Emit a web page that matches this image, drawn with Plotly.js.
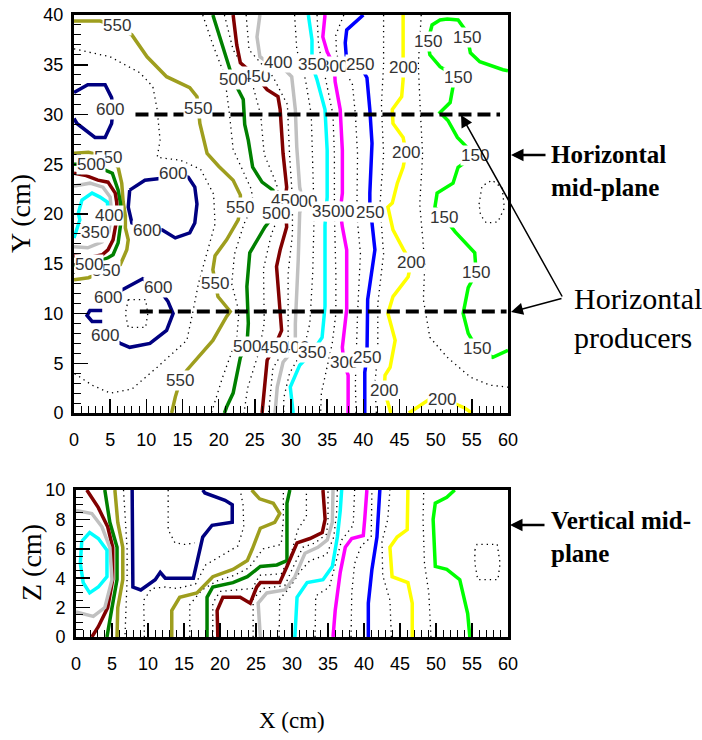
<!DOCTYPE html>
<html><head><meta charset="utf-8">
<script src="https://cdn.plot.ly/plotly-3.0.1.min.js"></script>
<style>html,body{margin:0;padding:0;background:#fff}#chart{width:702px;height:740px}</style>
</head><body><div id="chart"></div>
<script>
// ---------- DATA : top panel (X-Y horizontal mid-plane), contour polylines [x,y] ----------
const T600 = [
  [[0,32.2],[1.9,33.0],[4.3,33.0],[5.2,31.7],[5.4,30.5],[5.2,29.1],[4.3,27.7],[2.9,27.7],[0.4,29.1],[0,29.6]],
  [[7.7,22.4],[9.8,23.4],[12.2,23.6],[13.7,24.1],[15.8,23.7],[16.7,22.7],[17.0,21.0],[16.7,19.1],[16.0,18.1],[14.0,17.6],[12.2,18.4],[10.1,18.6],[8.0,19.1],[7.5,20.7],[7.7,22.4]],
  [[4.7,11.6],[6.8,12.4],[9.5,13.5],[11.6,12.6],[13.0,11.2],[13.7,10.0],[12.8,8.3],[10.5,7.0],[7.7,6.6],[6.4,7.0],[4.3,7.8]],
  [[3.9,10.3],[2.2,10.3],[1.8,9.8],[2.5,9.2],[3.9,9.2]]
];
const T550 = [
  [[0,39.4],[3.6,39.4],[5.9,38.9],[8.0,38.0],[10.1,35.8],[12.8,33.8],[16.0,32.7],[17.0,31.8],[17.2,30.6],[17.4,29.1],[18.4,26.1],[20.0,24.8],[22.0,23.4],[23.0,21.9],[23.0,20.7],[22.7,19.4],[21.1,17.4],[19.5,15.8],[19.2,14.4],[19.5,13.0],[19.9,11.7],[21.6,10.2],[21.1,9.7],[19.2,7.3],[15.6,4.3],[14.7,3.3],[14.0,1.6],[13.5,0]],
  [[0,26.1],[2.0,26.2],[4.7,25.7],[6.1,24.7],[6.6,23.1],[6.8,21.2],[7.1,19.8],[7.1,18.6],[7.5,17.4],[7.3,16.4],[6.4,14.9],[4.4,14.3],[2.0,13.6],[0,13.4]]
];
const T500 = [
  [[19.2,40],[20.5,37],[21.6,34.3],[22.0,33.5],[23.4,31.5],[23.6,29],[24.1,27.4],[24.7,24.7],[26.0,23.2],[27.5,22.4],[27.9,20.1],[26.4,18.7],[24.3,16.1],[23.9,12.7],[24.1,9.0],[23.9,6.7],[23.0,5.6],[22.0,2.0],[21.1,0.6],[20.8,0]],
  [[0,25.0],[2.3,25.0],[4.3,24.4],[5.3,24.1],[6.1,22.4],[6.4,21.2],[6.6,19.8],[6.4,18.4],[6.1,17.1],[5.4,15.9],[4.7,15.6],[2.1,14.9],[0,14.9]]
];
const T450 = [
  [[22.0,40],[22.5,37],[23.0,35.2],[25.2,33.8],[26.7,32.5],[28.2,31.8],[28.5,30.5],[28.9,26.1],[29.4,22.7],[29.2,21.4],[29.4,18.7],[28.5,16.4],[28.0,14.7],[28.5,10.7],[28.7,8.3],[27.7,6.6],[26.7,5.3],[26.0,0]],
  [[0,24.1],[1.5,23.9],[3.3,23.4],[4.7,23.2],[5.7,22.1],[5.9,21.2],[6.0,19.8],[5.7,18.4],[5.4,17.4],[4.7,16.4],[3.9,15.9],[2.0,15.6],[0,15.8]]
];
const T400 = [
  [[25.7,40],[25.3,37.8],[25.7,35.8],[26.7,35.3],[28.2,35.2],[30.1,33.8],[30.6,30.5],[30.8,26.7],[31.2,22.7],[31.6,21.3],[31.2,20.1],[31.0,15.4],[30.6,9.0],[30.6,6.6],[28.9,5.1],[28.1,2.6],[27.8,0]],
  [[0,22.8],[2.2,23.1],[4.0,22.7],[5.0,21.7],[5.2,20.0],[4.8,18.2],[3.9,17.2],[1.9,16.6],[0,16.7]]
];
const T350 = [
  [[32.4,40],[32.9,37.5],[32.9,35.0],[33.6,33.5],[34.7,30.5],[35.0,26.4],[35.0,21.7],[34.9,20.3],[34.7,18.9],[34.7,10.7],[34.3,7.6],[32.9,6.1],[31.2,4.8],[29.9,2.6],[30.3,0]],
  [[0,17.6],[0.5,18.6],[0.8,19.4],[0.6,20.1],[1.1,21.4],[2.5,22.1],[3.6,21.7],[4.6,21.2],[4.8,20.0],[4.2,18.6],[2.9,18.1]]
];
const T300 = [
  [[34.7,40],[34.4,37.8],[35.0,36.3],[36.0,34.8],[36.1,33.3],[36.8,30.5],[37.1,26.4],[37.1,22.1],[36.8,20.3],[37.1,18.7],[37.7,16.4],[37.7,10.4],[37.1,6.6],[37.3,5.1],[37.9,3.8],[37.9,0]]
];
const T250 = [
  [[40.0,40],[37.7,38.5],[37.5,37.2],[37.7,35.3],[39.5,35.0],[40.5,33.7],[40.9,30.5],[41.2,27.1],[40.9,22.1],[40.9,20.2],[41.2,19.1],[41.6,16.4],[40.6,11.4],[40.6,8.0],[40.5,5.6],[40.2,4.1],[40.2,0]]
];
const T200 = [
  [[45.5,40],[45.5,35.8],[45.5,34.7],[45.5,33.5],[45.3,31.8],[44.0,30.5],[44.1,29.1],[45.5,27.7],[45.9,26.2],[45.5,24.7],[44.7,23.1],[44.0,21.1],[43.4,20.7],[44.1,18.4],[45.5,16.5],[46.6,15.1],[46.2,13.7],[44.1,11.7],[43.4,10.0],[44.4,7.3],[43.7,4.6],[43.0,3.8],[42.9,2.3],[43.3,1.3],[43.8,0]],
  [[46.3,0],[47.5,0.6],[49.2,1.4],[50.9,1.4],[52.5,1.0],[54.0,0.5],[55.0,0]]
];
const T150 = [
  [[60,34.4],[59.3,34.5],[56.1,35.3],[54.8,36.2],[54.4,37.7],[54.3,38.3],[53.1,39.5],[51.6,39.6],[50.6,39.5],[49.5,39.0],[48.9,37.3],[49.2,36.0],[50.6,34.8],[53.1,33.7],[52.4,32.8],[52.0,31.2],[50.6,30.2],[51.7,29.4],[53.0,27.7],[55.4,25.9],[53.1,24.7],[52.4,23.1],[50.2,22.1],[49.9,20.7],[51.2,19.6],[52.7,18.2],[55.4,16.1],[55.6,14.1],[54.5,12.6],[53.8,10.0],[54.5,8.0],[55.7,6.5],[57.9,5.6],[59.6,6.1],[60,6.3]]
];
// intermediate (dotted) isotherms, top panel
const Tdots = [
  [[0,36.6],[1.9,36.3],[5.0,35.8],[9.1,34.2],[10.9,32.8],[11.5,30.5],[11.9,27.4],[11.5,25.7],[14.7,25.4],[17.5,24.5],[19.3,22.0],[19.5,19.0],[18.5,16.5],[17.2,13.0],[16.5,10.4],[15.6,7.3],[11.5,4.6],[8.0,2.4],[5.0,2.0],[2.5,2.8],[0,4.0]],
  [[7.5,11.4],[9.9,11.4],[10.2,10.0],[9.9,8.6],[7.5,8.6],[7.1,10.0],[7.5,11.4]],
  [[17.8,40],[19.2,37],[20.8,34],[21.5,30],[22.0,26.5],[24.5,22.5],[24.8,21.0],[23.5,19.0],[22.2,16.0],[21.8,13.0],[22.8,10.2],[22.5,7.5],[20.5,3.5],[19.0,0]],
  [[20.8,40],[22.0,36.5],[24.5,33.5],[25.8,30],[26.3,26],[28.0,23],[28.7,20.5],[27.3,18],[26.2,14.5],[26.3,9],[25.5,6],[24.0,2.5],[23.5,0]],
  [[23.8,40],[24.2,36.5],[27.5,33.8],[29.5,31],[29.8,26],[30.2,21.5],[30.2,18],[29.6,14],[29.6,9],[29.6,7],[27.5,4.5],[26.9,0]],
  [[30.5,40],[30.8,36.5],[32.0,33.5],[32.8,30],[33.0,25],[33.2,20],[33.0,14],[32.6,9],[31.8,6.5],[29.8,4],[29.0,1.5],[29.0,0]],
  [[33.6,40],[33.8,37],[34.8,33.5],[35.8,30],[36.0,26],[36.0,20],[36.2,14],[36.2,10],[35.7,7],[35.0,4.5],[34.2,2],[34.1,0]],
  [[37.3,40],[36.2,38],[36.3,36],[38.5,33],[38.9,30],[39.2,26],[39.1,20],[39.6,16],[39.2,10],[39.0,6],[38.9,3],[39.0,0]],
  [[42.8,40],[42.8,35],[42.5,31],[42.8,26],[42.3,21],[42.8,16],[42.0,11],[42.0,6],[41.6,3],[41.8,0]],
  [[48.0,40],[47.6,35],[47.9,30],[48.2,26],[47.8,21],[48.5,15],[48.3,11.4],[49.2,7.6],[51.6,5.6],[54.8,3.6],[57.5,2.8],[60,2.6]],
  [[56.0,21],[56.4,22.8],[57.8,23.4],[59.2,22.6],[59.5,20.6],[58.6,19.2],[57.0,19.1],[56.2,19.9],[56.0,21]]
];
// contour labels, top panel (drawn in order; later ones sit on top)
const topLabT = ["550","450","500","600","550","400","300","350","250","200","150","150","150","200","150","600","550","500","550","400","450","500","300","350","250","150","200","150","400","450","500","350","300","250","200","200","150","600","600","600","550","550","600","400","350","550","500"];
const topLabX = [5.9,25.2,22.0,5.0,17.2,28.2,36.0,32.9,39.5,45.5,48.9,54.4,53.1,45.9,55.4,13.7,4.7,2.3,23.0,31.6,29.2,27.9,36.8,34.9,40.9,51.2,46.6,55.6,30.6,27.7,23.9,32.9,37.3,40.5,42.9,50.9,55.7,11.6,4.7,4.3,14.7,19.5,10.1,4.9,2.9,4.4,2.1];
const topLabY = [38.9,33.8,33.5,30.5,30.6,35.2,34.8,35.0,35.0,34.7,37.3,37.7,33.7,26.2,25.9,24.1,25.7,25.0,20.7,21.3,21.4,20.1,20.3,20.3,20.2,19.6,15.1,14.1,6.6,6.6,6.7,6.1,5.1,5.6,2.3,1.4,6.5,12.6,11.6,7.8,3.3,13.0,18.3,19.9,18.1,14.3,14.9];
// horizontal producers (Y positions and X extent)
const prodY = [30.0, 10.2];
const prodX0 = [8.5, 9.1];
const prodX1 = [58.9, 59.8];

// ---------- DATA : bottom panel (X-Z vertical mid-plane) ----------
const B600 = [[[7.8,10],[7.8,6.0],[7.9,3.4],[9.0,3.2],[11.0,3.9],[11.7,4.4],[12.4,4.0],[16.3,4.0],[17.6,6.8],[18.9,7.6],[21.7,7.8],[21.7,9.0],[20.7,9.3],[17.9,9.8],[17.6,10]]];
const B550 = [
  [[5.4,10],[5.8,7.8],[6.5,6.1],[6.5,3.9],[5.8,2.0],[5.7,0]],
  [[24.4,10],[25.5,9.4],[27.4,9.1],[28.3,8.4],[27.6,7.8],[25.6,7.4],[24.5,6.0],[23.8,5.2],[21.8,4.6],[19.0,4.1],[16.8,3.0],[14.4,2.7],[13.3,1.8],[13.3,0]]
];
const B500 = [
  [[4.0,10],[4.7,7.8],[5.7,6.1],[5.7,3.9],[5.0,2.0],[4.3,0]],
  [[18.2,0],[18.2,2.7],[19.0,3.4],[21.8,3.7],[23.8,4.1],[25.6,4.8],[27.9,4.9],[29.3,5.2],[29.3,9.1],[29.7,10]]
];
const B450 = [
  [[1.5,10],[3.1,8.8],[4.4,7.5],[5.1,6.1],[5.1,3.9],[4.4,2.0],[3.1,0.7],[2.2,0]],
  [[19.7,0],[19.6,1.8],[20.4,2.7],[22.8,2.7],[24.2,2.3],[25.1,3.4],[25.6,3.7],[28.3,3.7],[29.3,4.8],[30.7,6.4],[32.5,6.7],[34.2,7.1],[34.6,8.0],[34.3,10]]
];
const B400 = [
  [[0,8.6],[2.2,8.4],[3.6,7.5],[4.7,6.1],[5.0,3.9],[4.0,2.0],[2.4,1.4],[0.6,1.6],[0,1.7]],
  [[25.6,0],[25.3,2.3],[26.5,3.0],[29.0,3.2],[30.4,4.1],[31.8,5.7],[33.6,6.1],[34.9,6.6],[35.6,7.8],[35.7,10]]
];
const B350 = [
  [[0.8,6.5],[1.9,7.1],[3.1,6.7],[4.3,5.9],[4.3,4.1],[3.1,3.4],[1.9,3.0],[1.0,3.7],[0.6,5.0],[0.8,6.5]],
  [[30.4,0],[30.7,2.7],[32.1,3.7],[34.3,3.9],[35.6,4.8],[36.3,6.8],[36.7,8.6],[36.9,10]]
];
const B300 = [[[35.7,0],[36.0,1.8],[36.7,4.4],[37.4,6.1],[38.3,6.7],[39.9,6.9],[40.1,8.0],[40.4,10]]];
const B250 = [[[40.6,0],[40.6,2.3],[41.1,4.6],[41.8,6.8],[42.2,10]]];
const B200 = [[[46.7,0],[46.7,2.3],[46.1,3.7],[43.9,4.1],[43.6,6.1],[44.6,6.8],[46.0,7.3],[46.1,10]]];
const B150 = [[[54.7,0],[54.4,1.6],[53.3,3.9],[51.5,4.6],[49.9,4.8],[49.6,8.0],[49.9,9.1],[51.5,9.5],[52.6,10]]];
const Bdots = [
  [[6.6,10],[6.9,8],[7.1,6],[7.1,4],[7.0,2],[6.8,0]],
  [[9.5,0],[9.4,2.5],[10.5,3.3],[12.4,3.4],[14.0,3.3],[16.6,3.6],[18.0,4.9],[20.5,5.6],[22.5,6.2],[23.3,7.5],[23.2,9],[22.8,10]],
  [[12.8,10],[12.8,7.3],[13.75,6.4],[15.1,6.3],[16.5,6.4]],
  [[15.8,0],[15.8,2.2],[17.5,3.2],[19.5,3.8],[22.0,4.2],[24.0,4.7],[26.0,6.0],[28.5,6.3],[28.8,8],[28.8,10]],
  [[19.0,0],[19.0,2.3],[20.0,3.1],[23.0,3.2],[24.5,3.3],[25.5,4.2],[28.5,4.3],[29.8,5.5],[30.8,7.3],[32.0,8.2],[32.0,10]],
  [[24.6,0],[24.6,2.6],[26.0,3.3],[29.0,3.5],[30.2,4.8],[31.5,6.1],[33.2,6.4],[34.8,7.0],[35.0,8],[35.0,10]],
  [[28.2,0],[28.3,2.6],[29.6,3.3],[31.2,4.5],[32.5,5.2],[34.8,5.6],[35.8,6.8],[36.2,8.5],[36.3,10]],
  [[33.2,0],[33.3,2.8],[35.2,3.4],[36.2,5.2],[36.9,6.6],[38.5,7.6],[38.7,10]],
  [[38.2,0],[38.3,3],[38.7,5],[39.6,6.2],[41.0,6.8],[41.1,10]],
  [[43.8,0],[43.6,2.5],[42.6,4.2],[42.5,6.5],[43.3,8],[43.6,10]],
  [[49.3,0],[49.0,3],[48.4,5],[48.2,8],[48.3,10]],
  [[55.4,5.9],[55.7,6.3],[58.5,6.3],[58.9,5.0],[58.6,3.9],[55.8,3.9],[55.4,5.0],[55.4,5.9]]
];
const botProdZ = 2.2, botProdX0 = 9.7, botProdX1 = 60;

// tick labels
const xTicks = [0,5,10,15,20,25,30,35,40,45,50,55,60];
const yTicks = [0,5,10,15,20,25,30,35,40];
const zTicks = [0,2,4,6,8,10];

// ---------- STYLE ----------
const levelColor = {600:'#000080',550:'#9e9e1e',500:'#008000',450:'#800000',400:'#c0c0c0',350:'#00ffff',300:'#ff00ff',250:'#0000ff',200:'#ffff00',150:'#00ff00'};
const topSets = [[T600,600],[T550,550],[T500,500],[T450,450],[T400,400],[T350,350],[T300,300],[T250,250],[T200,200],[T150,150]];
const botSets = [[B600,600],[B550,550],[B500,500],[B450,450],[B400,400],[B350,350],[B300,300],[B250,250],[B200,200],[B150,150]];

function flat(segs){ const xs=[],ys=[]; segs.forEach((s,i)=>{ if(i) {xs.push(null);ys.push(null);} s.forEach(p=>{xs.push(p[0]);ys.push(p[1]);}); }); return [xs,ys]; }
function lineTrace(segs,color,width,dash,xa,ya){ const [xs,ys]=flat(segs); return {type:'scatter',mode:'lines',x:xs,y:ys,xaxis:xa,yaxis:ya,connectgaps:false,hoverinfo:'skip',showlegend:false,line:{color:color,width:width,dash:dash}}; }

const traces = [];
const dotDash = '1.3px,4px';
traces.push(lineTrace(Tdots,'#000',1.3,dotDash,'x','y'));
traces.push(lineTrace(Bdots,'#000',1.3,dotDash,'x2','y2'));
topSets.forEach(([s,l])=>traces.push(lineTrace(s,levelColor[l],3.5,'solid','x','y')));
botSets.forEach(([s,l])=>traces.push(lineTrace(s,levelColor[l],3.5,'solid','x2','y2')));
const prodSegs = prodY.map((y,i)=>[[prodX0[i],y],[prodX1[i],y]]);
traces.push(lineTrace(prodSegs,'#000',4,'13px,6px','x','y'));
traces.push(lineTrace([[[botProdX0,botProdZ],[botProdX1,botProdZ]]][0],'#000',4,'13px,6px','x2','y2'));

const tickFont = {family:'Liberation Sans, Arial, sans-serif', size:18, color:'#000'};
function axis(extra){ return Object.assign({showline:true,linewidth:3,linecolor:'#000',mirror:true,showgrid:false,zeroline:false,
  ticks:'inside',ticklen:14,tickwidth:1.5,tickcolor:'#000',tickfont:tickFont,fixedrange:true}, extra); }

const annotations = [];
topLabT.forEach((t,i)=>annotations.push({xref:'x',yref:'y',x:topLabX[i],y:topLabY[i],text:t,showarrow:false,bgcolor:'#ffffff',borderpad:0,
  font:{family:'Liberation Sans Narrow, Arial Narrow, Liberation Sans, sans-serif',size:17,color:'#333'}}));
const serif = 'Liberation Serif, Times New Roman, serif';
annotations.push({xref:'paper',yref:'paper',x:21/702,y:1-214/740,xanchor:'center',yanchor:'middle',text:'Y (cm)',textangle:-90,showarrow:false,font:{family:serif,size:28,color:'#000'}});
annotations.push({xref:'paper',yref:'paper',x:31/702,y:1-563/740,xanchor:'center',yanchor:'middle',text:'Z (cm)',textangle:-90,showarrow:false,font:{family:serif,size:28,color:'#000'}});
annotations.push({xref:'paper',yref:'paper',x:292/702,y:1-720/740,xanchor:'center',yanchor:'middle',text:'X (cm)',showarrow:false,font:{family:serif,size:23,color:'#000'}});
annotations.push({xref:'paper',yref:'paper',x:549/702,y:1-171/740,xanchor:'left',yanchor:'middle',align:'left',text:'<b>Horizontal<br>mid-plane</b>',showarrow:false,font:{family:serif,size:25,color:'#000'}});
annotations.push({xref:'paper',yref:'paper',x:549/702,y:1-537/740,xanchor:'left',yanchor:'middle',align:'left',text:'<b>Vertical mid-<br>plane</b>',showarrow:false,font:{family:serif,size:25,color:'#000'}});
annotations.push({xref:'paper',yref:'paper',x:572/702,y:1-318/740,xanchor:'left',yanchor:'middle',align:'left',text:'Horizontal<br>producers',showarrow:false,font:{family:serif,size:30,color:'#000'}});
// arrows
annotations.push({xref:'paper',yref:'paper',x:511/702,y:1-155/740,ax:36,ay:0,text:'',showarrow:true,arrowhead:2,arrowsize:1,arrowwidth:2.5,arrowcolor:'#000'});
annotations.push({xref:'paper',yref:'paper',x:510/702,y:1-525/740,ax:36,ay:0,text:'',showarrow:true,arrowhead:2,arrowsize:1,arrowwidth:2.5,arrowcolor:'#000'});
annotations.push({xref:'paper',yref:'paper',x:461/702,y:1-115/740,ax:102,ay:183,text:'',showarrow:true,arrowhead:2,arrowsize:1.6,arrowwidth:1.5,arrowcolor:'#000'});
annotations.push({xref:'paper',yref:'paper',x:511/702,y:1-312/740,ax:52,ay:-14,text:'',showarrow:true,arrowhead:2,arrowsize:1.6,arrowwidth:1.5,arrowcolor:'#000'});

const layout = {
  width:702,height:740,margin:{l:0,r:0,t:0,b:0},paper_bgcolor:'#fff',plot_bgcolor:'#fff',showlegend:false,
  xaxis: axis({domain:[74/702,508/702],range:[0,60],anchor:'y',tickvals:xTicks,ticktext:xTicks.map(String),
    minor:{dtick:1,ticks:'inside',ticklen:7,tickwidth:1,tickcolor:'#000'},ticklabelstandoff:8}),
  yaxis: axis({domain:[1-413/740,1-15/740],range:[0,40],anchor:'x',tickvals:yTicks,ticktext:yTicks.map(String),
    minor:{dtick:1,ticks:'inside',ticklen:7,tickwidth:1,tickcolor:'#000'},ticklabelstandoff:4}),
  xaxis2: axis({domain:[76/702,508/702],range:[0,60],anchor:'y2',tickvals:xTicks,ticktext:xTicks.map(String),
    minor:{dtick:1,ticks:'inside',ticklen:7,tickwidth:1,tickcolor:'#000'},ticklabelstandoff:8}),
  yaxis2: axis({domain:[1-637/740,1-490/740],range:[0,10],anchor:'x2',tickvals:zTicks,ticktext:zTicks.map(String),
    minor:{dtick:0.5,ticks:'inside',ticklen:7,tickwidth:1,tickcolor:'#000'},ticklabelstandoff:4}),
  annotations:annotations
};
Plotly.newPlot('chart',traces,layout,{displayModeBar:false,staticPlot:true});
</script></body></html>
